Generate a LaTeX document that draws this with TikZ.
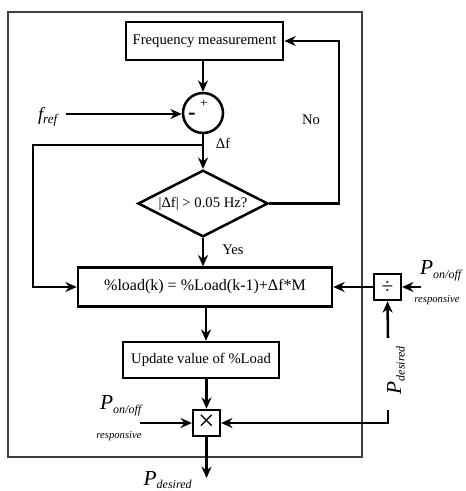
\documentclass[tikz,border=0pt]{standalone}
\usepackage{fontspec}
\setmainfont{Liberation Serif}
\usetikzlibrary{shapes.geometric,arrows.meta}
\tikzset{
  blockbox/.style={draw,line width=1.9pt,inner sep=0pt},
  opbox/.style={draw,line width=1.9pt,inner sep=0pt,minimum width=20pt,minimum height=19.5pt},
  flow/.style={->,line width=1.9pt},
  wire/.style={line width=1.9pt},
  bigp/.style={font=\itshape\fontsize{16}{16}\selectfont,inner sep=0pt},
  small/.style={font=\itshape\fontsize{8}{9}\selectfont,inner sep=0pt}
}
\newcommand{\pvar}[1]{P\textsubscript{\fontsize{9}{9}\selectfont #1}}
\begin{document}
\begin{tikzpicture}[x=0.75pt,y=-0.75pt,>={Stealth[length=8.5pt,width=7.5pt]},
  every node/.style={font=\fontsize{11}{13}\selectfont}]
  \useasboundingbox (0,0) rectangle (465,491);
  % frame
  \draw[line width=0.9pt,black!75] (8,12) rectangle (362,457);
  % blocks
  \node[blockbox,minimum width=118pt,minimum height=28.5pt] (meas) at (204.5,41) {Frequency measurement};
  \node[circle,draw,line width=1.9pt,minimum size=30pt,inner sep=0pt] (sum) at (203,113) {};
  \node[inner sep=0pt,font=\fontsize{10}{10}\selectfont] (plus) at (204,104) {+};
  \node[inner sep=0pt,font=\bfseries\fontsize{17}{17}\selectfont] (minus) at (192,116) {-};
  \node[diamond,draw,line width=1.9pt,minimum width=97.5pt,minimum height=50pt,inner sep=0pt,
        label={center:|Δf| > 0.05 Hz?}] (test) at (203,203.5) {};
  \node[blockbox,minimum width=190.5pt,minimum height=29pt,font=\fontsize{12}{13}\selectfont] (load) at (205,287) {\%load(k) = \%Load(k-1)+Δf*M};
  \node[blockbox,minimum width=117pt,minimum height=27pt] (update) at (201,360) {Update value of \%Load};
  \node[opbox,font=\fontsize{22}{22}\selectfont] (mult) at (206.5,423) {×};
  \node[opbox,font=\fontsize{16}{16}\selectfont] (div) at (387.5,287) {÷};
  % labels
  \node[font=\itshape\fontsize{14}{14}\selectfont,inner sep=0pt] (fref) at (48,117) {f\textsubscript{ref}};
  \node (df) at (223,143) {Δf};
  \node (no) at (311,120) {No};
  \node (yes) at (233,250) {Yes};
  \node[bigp] (ponl) at (121,406) {\pvar{on/off}};
  \node[small] (respl) at (119,436) {responsive};
  \node[bigp] (ponr) at (441,271) {\pvar{on/off}};
  \node[small] (respr) at (437,300) {responsive};
  \node[bigp,rotate=90] (pdesr) at (396,370) {\pvar{desired}};
  \node[bigp] (pdes) at (168,480) {\pvar{desired}};
  % helper points
  \coordinate (fin) at (66,114);
  \coordinate (br) at (203,145);
  \coordinate (lft) at (33,145);
  \coordinate (rgt) at (339,203.5);
  \coordinate (pinl) at (140,423);
  \coordinate (pinr) at (421,287);
  \coordinate (fbk) at (388,410);
  \coordinate (fbk2) at (388,338);
  \coordinate (out) at (206.5,478);
  % connectors
  \draw[flow] (sum.north |- meas.south) -- (sum.north);
  \draw[flow] (fin) -- (fin -| sum.west);
  \draw[wire] (sum.south) -- (br);
  \draw[flow] (br) -- (test.north);
  \draw[flow] (br) -- (lft) |- (load.west);
  \draw[flow] (test.east) -- (rgt) |- (meas.east);
  \draw[flow] (test.south) -- (test.south |- load.north);
  \draw[flow] (load.south -| 206,0) -- (update.north -| 206,0);
  \draw[flow] (update.south -| mult.north) -- (mult.north);
  \draw[flow] (pinl) -- (mult.west);
  \draw[flow] (fbk) |- (mult.east);
  \draw[flow] (fbk2) -- (div.south);
  \draw[flow] (pinr) -- (div.east);
  \draw[flow] (div.west) -- (div.west -| load.east);
  \draw[flow] (mult.south) -- (out);
\end{tikzpicture}
\end{document}
